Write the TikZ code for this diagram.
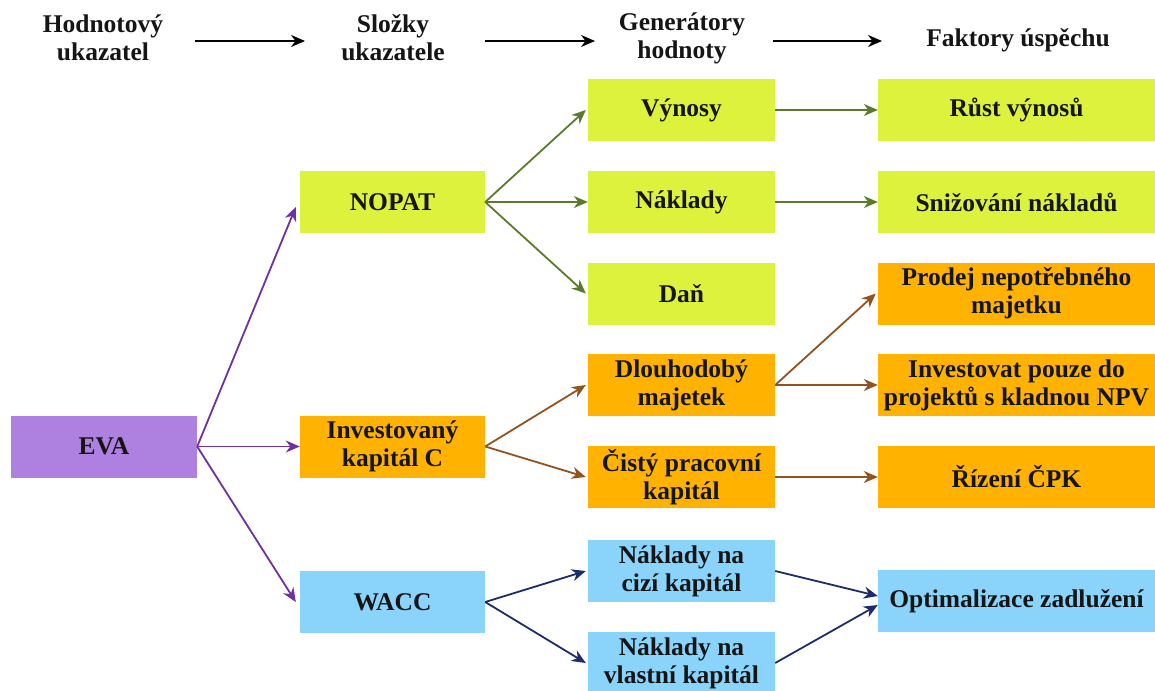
\documentclass[tikz,border=0pt]{standalone}
\usepackage{fontspec}
\setmainfont{Liberation Serif}
\usetikzlibrary{arrows.meta,calc}
\definecolor{cLime}{HTML}{DCF23C}
\definecolor{cPurple}{HTML}{AE80E0}
\definecolor{cOrange}{HTML}{FFB300}
\definecolor{cBlue}{HTML}{8AD4FC}
\definecolor{aGreen}{HTML}{5B7A2C}
\definecolor{aBrown}{HTML}{93531F}
\definecolor{aNavy}{HTML}{1F2C6B}
\definecolor{aPurple}{HTML}{7030A0}
\definecolor{txt}{HTML}{151515}
\begin{document}
\begin{tikzpicture}[x=1pt,y=-1pt,
  font=\bfseries\fontsize{25.5}{28}\selectfont,
  box/.style={rectangle, inner sep=0pt, align=center, minimum height=62pt, text=txt},
  colA/.style={box, minimum width=186pt},
  colB/.style={box, minimum width=185pt},
  colC/.style={box, minimum width=187pt},
  colD/.style={box, minimum width=277pt},
  head/.style={inner sep=0pt, align=center, text=txt},
  arr/.style={-{Stealth[length=14pt,width=12pt,inset=4.5pt]}, line width=1.8pt},
  harr/.style={arr, black},
  garr/.style={arr, aGreen},
  barr/.style={arr, aBrown},
  narr/.style={arr, aNavy},
  parr/.style={arr, aPurple}]
\useasboundingbox (0,0) rectangle (1155,690);
\clip (0,0) rectangle (1155,690);
\fill[white] (0,0) rectangle (1155,690);

% headers
\node[head] (h1) at (103,38) {Hodnotový\\ukazatel};
\node[head] (h2) at (393,38) {Složky\\ukazatele};
\node[head] (h3) at (682,38) {Generátory\\hodnoty};
\node[head] (h4) at (1018,40) {Faktory úspěchu};
\coordinate (a1s) at (195,41); \coordinate (a1e) at (305,41);
\coordinate (a2s) at (485,41); \coordinate (a2e) at (595,41);
\coordinate (a3s) at (773,41); \coordinate (a3e) at (882,41);
\draw[harr] (a1s) -- (a1e);
\draw[harr] (a2s) -- (a2e);
\draw[harr] (a3s) -- (a3e);

% column 1
\node[colA, fill=cPurple] (eva) at (104,446.5) {EVA};

% column 2
\node[colB, fill=cLime] (nopat) at (392.5,202) {NOPAT};
\node[colB, fill=cOrange] (inv) at (392.5,446.5) {Investovaný\\kapitál C};
\node[colB, fill=cBlue] (wacc) at (392.5,602) {WACC};

% column 3
\node[colC, fill=cLime] (vyn) at (681.5,110) {Výnosy};
\node[colC, fill=cLime] (nak) at (681.5,202) {Náklady};
\node[colC, fill=cLime] (dan) at (681.5,293.5) {Daň};
\node[colC, fill=cOrange] (dlm) at (681.5,385) {Dlouhodobý\\majetek};
\node[colC, fill=cOrange] (cpk) at (681.5,477) {Čistý pracovní\\kapitál};
\node[colC, fill=cBlue] (nck) at (681.5,571) {Náklady na\\cizí kapitál};
\node[colC, fill=cBlue] (nvk) at (681.5,663) {Náklady na\\vlastní kapitál};

% column 4
\node[colD, fill=cLime] (rust) at (1016.5,110) {Růst výnosů};
\node[colD, fill=cLime] (sniz) at (1016.5,202) {Snižování nákladů};
\node[colD, fill=cOrange] (prod) at (1016.5,293.5) {Prodej nepotřebného\\majetku};
\node[colD, fill=cOrange] (invp) at (1016.5,385) {Investovat pouze do\\projektů s kladnou NPV};
\node[colD, fill=cOrange] (rizc) at (1016.5,477) {Řízení ČPK};
\node[colD, fill=cBlue] (opt) at (1016.5,601) {Optimalizace zadlužení};

% EVA arrows
\draw[parr] (eva.east) -- ([xshift=-4pt,yshift=-5pt]nopat.west);
\draw[parr] (eva.east) -- (inv.west);
\draw[parr] (eva.east) -- ([xshift=-4pt]wacc.west);

% NOPAT arrows
\draw[garr] (nopat.east) -- ([xshift=-2pt]vyn.west);
\draw[garr] (nopat.east) -- (nak.west);
\draw[garr] (nopat.east) -- ([xshift=-2pt]dan.west);
\draw[garr] (vyn.east) -- (rust.west);
\draw[garr] (nak.east) -- (sniz.west);

% Investovany kapital arrows
\draw[barr] (inv.east) -- ([xshift=-2pt]dlm.west);
\draw[barr] (inv.east) -- ([xshift=-2pt]cpk.west);
\draw[barr] (dlm.east) -- ([xshift=-2pt]prod.west);
\draw[barr] (dlm.east) -- (invp.west);
\draw[barr] (cpk.east) -- (rizc.west);

% WACC arrows
\draw[narr] (wacc.east) -- ([xshift=-2pt]nck.west);
\draw[narr] (wacc.east) -- ([xshift=-2pt]nvk.west);
\draw[narr] (nck.east) -- ([yshift=5pt]opt.west);
\draw[narr] (nvk.east) -- ([yshift=-4pt]opt.west);
\end{tikzpicture}
\end{document}
